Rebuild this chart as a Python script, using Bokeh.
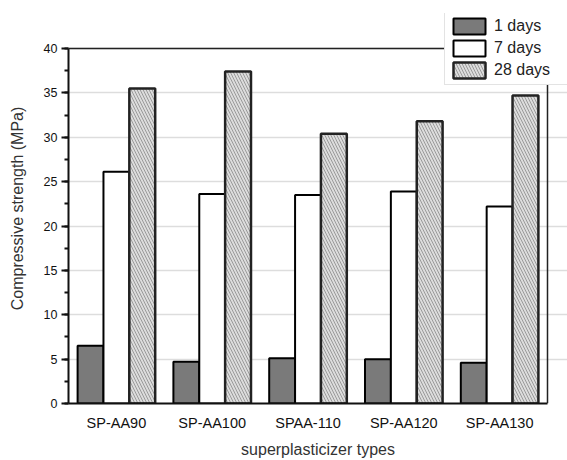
from bokeh.plotting import figure
from bokeh.models import (ColumnDataSource, Legend, LegendItem, SingleIntervalTicker,
                          FixedTicker, Range1d, Span)
from bokeh.transform import dodge
from bokeh.embed import file_html
from bokeh.resources import INLINE

categories = ["SP-AA90", "SP-AA100", "SPAA-110", "SP-AA120", "SP-AA130"]
days_1 = [6.5, 4.7, 5.1, 5.0, 4.6]
days_7 = [26.1, 23.6, 23.5, 23.9, 22.2]
days_28 = [35.5, 37.4, 30.4, 31.8, 34.7]
series_labels = ["1 days", "7 days", "28 days"]
y_max = 40

n = len(categories)
xs = [i + 0.5 for i in range(n)]
src = ColumnDataSource(dict(x=xs, cat=categories, d1=days_1, d7=days_7, d28=days_28))

FONT = "Liberation Sans"
# frame extends above / right of the axes box so the legend can sit over the corner
y_end = y_max * 390.0 / 355.0
x_end = n * 499.0 / 479.0
p = figure(x_range=Range1d(0, x_end), y_range=Range1d(0, y_end), width=567, height=460,
           output_backend="svg", toolbar_location=None,
           min_border_left=68, min_border_right=0, min_border_top=13, min_border_bottom=57)

w = 0.27
r1 = p.vbar(x=dodge("x", -w), top="d1", width=w, source=src,
            fill_color="#7a7a7a", line_color="black", line_width=2)
r2 = p.vbar(x=dodge("x", 0), top="d7", width=w, source=src,
            fill_color="white", line_color="black", line_width=2)
r3 = p.vbar(x=dodge("x", w), top="d28", width=w, source=src,
            fill_color="#dcdcdc", line_color="#222222", line_width=2.5,
            hatch_pattern="\\", hatch_color="#9a9a9a", hatch_scale=6, hatch_weight=1)

p.outline_line_color = None
p.add_layout(Span(location=y_max, dimension="width", line_color="#222222", line_width=1.5))
p.add_layout(Span(location=n, dimension="height", line_color="#222222", line_width=1.5))

legend = Legend(items=[LegendItem(label=series_labels[0], renderers=[r1]),
                       LegendItem(label=series_labels[1], renderers=[r2]),
                       LegendItem(label=series_labels[2], renderers=[r3])],
                location=(376, 318))
legend.label_text_font = FONT
legend.label_text_font_size = "16px"
legend.label_text_color = "#222222"
legend.glyph_width = 40
legend.glyph_height = 20
legend.label_height = 20
legend.label_width = 76
legend.spacing = 2
legend.padding = 4
legend.margin = 0
legend.label_standoff = 5
legend.border_line_color = "#c8c8c8"
legend.border_line_width = 1
legend.background_fill_color = "white"
legend.background_fill_alpha = 1
p.add_layout(legend)

p.xgrid.grid_line_color = None
p.ygrid.grid_line_color = "#dddddd"
p.ygrid.grid_line_width = 1.5
p.ygrid.ticker = SingleIntervalTicker(interval=5, num_minor_ticks=2)
p.ygrid.bounds = (0, y_max)

p.yaxis.ticker = SingleIntervalTicker(interval=5, num_minor_ticks=2)
p.yaxis.bounds = (0, y_max)
p.xaxis.ticker = FixedTicker(ticks=xs, minor_ticks=[])
p.xaxis.major_label_overrides = {x: c for x, c in zip(xs, categories)}
p.xaxis.bounds = (0, n)
p.yaxis.axis_label = "Compressive strength (MPa)"
p.xaxis.axis_label = "superplasticizer types"
for ax in (p.xaxis[0], p.yaxis[0]):
    ax.axis_line_color = "#111111"
    ax.axis_line_width = 2
    ax.major_label_text_font = FONT
    ax.major_label_text_color = "#111111"
    ax.axis_label_text_font = FONT
    ax.axis_label_text_font_size = "16px"
    ax.axis_label_text_font_style = "normal"
    ax.axis_label_text_color = "#333333"
p.xaxis.major_label_text_font_size = "14.5px"
p.yaxis.major_label_text_font_size = "12.5px"

p.yaxis.major_tick_line_width = 2
p.yaxis.major_tick_line_color = "#111111"
p.yaxis.major_tick_out = 7
p.yaxis.major_tick_in = 0
p.yaxis.minor_tick_line_width = 2
p.yaxis.minor_tick_line_color = "#111111"
p.yaxis.minor_tick_out = 4
p.yaxis.minor_tick_in = 0
p.yaxis.major_label_standoff = 4
p.yaxis.axis_label_standoff = 15

p.xaxis.major_tick_line_color = None
p.xaxis.major_tick_out = 0
p.xaxis.major_tick_in = 0
p.xaxis.minor_tick_line_color = None
p.xaxis.major_label_standoff = 11
p.xaxis.axis_label_standoff = 7

open("out.html", "w").write(file_html(p, INLINE))
